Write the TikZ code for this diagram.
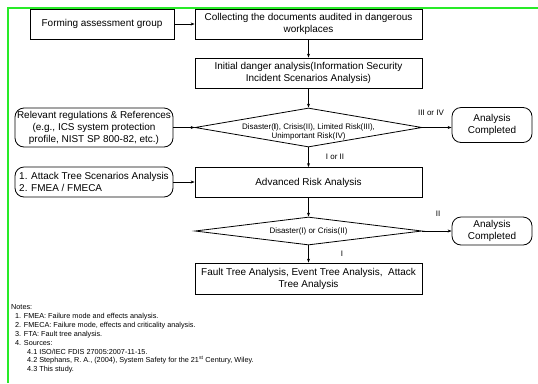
\documentclass[tikz,border=0pt]{standalone}
\usepackage{fontspec}
\setmainfont{Liberation Sans}
\usetikzlibrary{arrows.meta,shapes.geometric}
\definecolor{frame}{RGB}{40,235,40}
\begin{document}
\begin{tikzpicture}[x=1bp,y=-1bp,
  box/.style={draw,line width=0.8bp,inner sep=0pt,minimum height=30bp,align=center,font=\fontsize{10}{12}\selectfont},
  rbox/.style={box,rounded corners=9bp},
  dia/.style={draw,line width=0.8bp,diamond,inner sep=0pt},
  dtext/.style={font=\fontsize{8}{9}\selectfont,align=center,inner sep=0pt},
  lbl/.style={font=\fontsize{8}{9}\selectfont,inner sep=0pt},
  arr/.style={-{Stealth[length=4bp,width=3bp]},line width=0.7bp},
]
\useasboundingbox (0,0) rectangle (538,383);
\draw[frame,line width=2bp] (7.5,383) -- (7.5,7.5) -- (538,7.5);

\node[box,minimum width=144bp] (form) at (102,24) {Forming assessment group};
\node[box,minimum width=227bp] (coll) at (308.5,24) {Collecting the documents audited in dangerous\\workplaces};
\node[box,minimum width=227bp] (init) at (308.5,73) {Initial danger analysis(Information Security\\Incident Scenarios Analysis)};
\node[dia,minimum width=227bp,minimum height=39bp] (d1) at (308.5,127.5) {};
\node[dtext] (d1t) at (308.5,131.5) {Disaster(\textbf{I}), Crisis(II), Limited Risk(III),\\Unimportant Risk(IV)};
\node[rbox,minimum width=158bp,minimum height=39bp] (rel) at (94,127.5) {Relevant regulations \& References\\(e.g., ICS system protection\\profile, NIST SP 800-82, etc.)};
\node[rbox,minimum width=80bp,minimum height=35bp] (ac1) at (492,125) {Analysis\\Completed};
\node[box,minimum width=227bp] (adv) at (308.5,182.5) {Advanced Risk Analysis};
\node[rbox,minimum width=158bp,align=left] (att) at (94,182) {1. Attack Tree Scenarios Analysis\\2. FMEA / FMECA};
\node[dia,minimum width=227bp,minimum height=28bp] (d2) at (308.5,231) {};
\node[dtext] (d2t) at (308.5,231) {Disaster(I) or Crisis(II)};
\node[rbox,minimum width=80bp,minimum height=28bp] (ac2) at (492,231) {Analysis\\Completed};
\node[box,minimum width=227bp,minimum height=31bp] (fta) at (308.5,278.5) {Fault Tree Analysis, Event Tree Analysis,\ \ Attack\\Tree Analysis};

\draw[arr] (form) -- (coll);
\draw[arr] (coll) -- (init);
\draw[arr] (init) -- (d1);
\draw[arr] (rel.east) -- (d1.west);
\draw[arr] (d1.east) -- (d1.east -| ac1.west);
\draw[arr] (d1) -- (adv);
\draw[arr] (att.east) -- (att.east -| adv.west);
\draw[arr] (adv) -- (d2);
\draw[arr] (d2.east) -- (d2.east -| ac2.west);
\draw[arr] (d2) -- (fta);

\node[lbl] (l1) at (431,113) {III or IV};
\node[lbl] (l2) at (335,157) {I or II};
\node[lbl] (l3) at (438,214) {II};
\node[lbl] (l4) at (342,254) {I};

\node[anchor=north west,inner sep=0pt,align=left,font=\fontsize{7.3}{8.9}\selectfont] (notes) at (11,304.5) {Notes:\\
\hspace*{4bp}1. FMEA: Failure mode and effects analysis.\\
\hspace*{4bp}2. FMECA: Failure mode, effects and criticality analysis.\\
\hspace*{4bp}3. FTA: Fault tree analysis.\\
\hspace*{4bp}4. Sources:\\
\hspace*{16bp}4.1 ISO/IEC FDIS 27005:2007-11-15.\\
\hspace*{16bp}4.2 Stephans, R. A., (2004), System Safety for the 21\textsuperscript{st} Century, Wiley.\\
\hspace*{16bp}4.3 This study.};
\end{tikzpicture}
\end{document}
